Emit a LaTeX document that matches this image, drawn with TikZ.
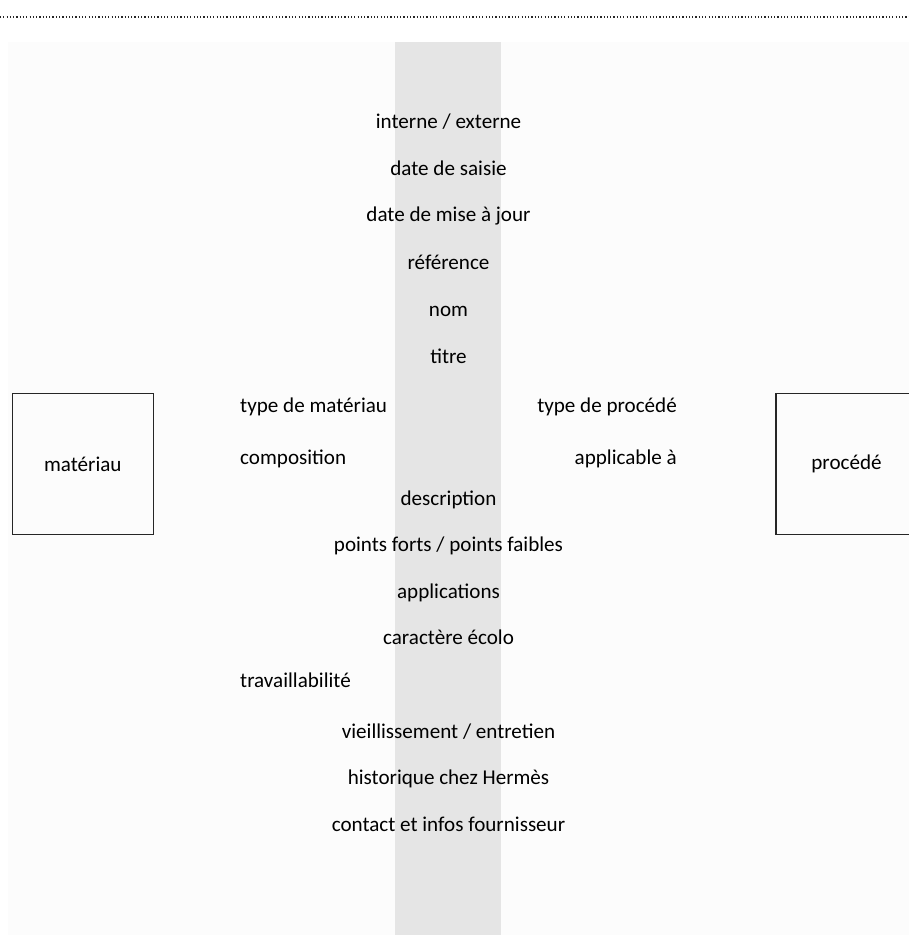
\documentclass[tikz,border=0pt]{standalone}
\usepackage{fontspec}
\setmainfont{Carlito}
\tikzset{
  champ/.style={inner sep=0pt, anchor=base, text=black},
  champg/.style={champ, anchor=base west},
  champd/.style={champ, anchor=base east},
  entite/.style={draw=black!85, line width=1.2pt, minimum size=4.23cm, inner sep=0pt},
}
\begin{document}
\begin{tikzpicture}[x=0.03cm, y=-0.03cm, font=\fontsize{18}{21}\selectfont]
		\useasboundingbox (0,0) rectangle (909,935);
		% fond et bande centrale
		\fill[black!1] (8,42) rectangle (909,935);
		\fill[black!10] (395,42) rectangle (501,935);
		\draw[black!85, line width=1pt, dash pattern=on 1pt off 1.8pt] (0,17) -- (909,17);
		% entités
		\node[entite] (mat) at (82.8,464) {matériau};
		\node[entite] (proc) at (846.5,464) {procédé};
		% champs communs
		\node[champ] (interne) at (448.5,129) {interne / externe};
		\node[champ] (saisie) at (448.5,176) {date de saisie};
		\node[champ] (maj) at (448.5,222) {date de mise à jour};
		\node[champ] (ref) at (448.5,270) {référence};
		\node[champ] (nom) at (448.5,316.5) {nom};
		\node[champ] (titre) at (448.5,363) {titre};
		\node[champ] (descr) at (448.5,505) {description};
		\node[champ] (points) at (448.5,551) {points forts / points faibles};
		\node[champ] (appli) at (448.5,598) {applications};
		\node[champ] (ecolo) at (448.5,644) {caractère écolo};
		\node[champ] (vieil) at (448.5,738) {vieillissement / entretien};
		\node[champ] (histo) at (448.5,784) {historique chez Hermès};
		\node[champ] (contact) at (448.5,831) {contact et infos fournisseur};
		% champs du matériau
		\node[champg] (typemat) at (240,412) {type de matériau};
		\node[champg] (compo) at (240,464) {composition};
		\node[champg] (travail) at (240,687) {travaillabilité};
		% champs du procédé
		\node[champd] (typeproc) at (677,412) {type de procédé};
		\node[champd] (applic) at (677,464) {applicable à};
	\end{tikzpicture}
\end{document}
